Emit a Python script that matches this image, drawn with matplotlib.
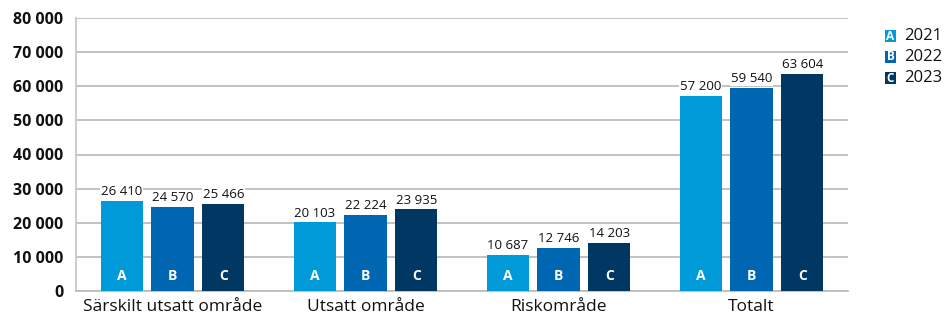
import numpy as np
import matplotlib
matplotlib.use("Agg")
import matplotlib.pyplot as plt
from matplotlib.patches import Rectangle

plt.rcParams['font.family'] = ['Open Sans', 'DejaVu Sans']

categories = ["Särskilt utsatt område", "Utsatt område", "Riskområde", "Totalt"]
years = ["2021", "2022", "2023"]
letters = ["A", "B", "C"]
v2021 = [26410, 20103, 10687, 57200]
v2022 = [24570, 22224, 12746, 59540]
v2023 = [25466, 23935, 14203, 63604]
series = [v2021, v2022, v2023]
colors = ["#009ad9", "#0066b1", "#003763"]

def fmt(v):
    return f"{v:,}".replace(",", " ")

W, H = 946, 316
fig = plt.figure(figsize=(W/100, H/100), dpi=100)
ax = fig.add_axes([76/W, 1 - 291/H, (848-76)/W, (291-18)/H])

x = np.arange(len(categories))
width = 0.218
offset = 0.264
for i, (vals, col) in enumerate(zip(series, colors)):
    xs = x + (i - 1) * offset
    ax.bar(xs, vals, width=width, color=col, zorder=3)
    for xi, v in zip(xs, vals):
        ax.annotate(fmt(v), (xi, v), xytext=(0, 2), textcoords="offset points",
                    ha="center", va="bottom", fontsize=9.5, color="#111111", zorder=4,
                    bbox=dict(facecolor="white", edgecolor="none", pad=0.6))
        ax.annotate(letters[i], (xi, 0), xytext=(0, 11), textcoords="offset points",
                    ha="center", va="center", fontsize=10, fontweight="bold",
                    color="white", zorder=4)

ax.set_xlim(-0.5, 3.5)
ax.set_ylim(0, 80000)
ax.set_yticks(np.arange(0, 80001, 10000))
ax.set_yticklabels([fmt(t) for t in range(0, 80001, 10000)], fontsize=11.5,
                   fontweight="bold", color="#111111")
ax.set_xticks(x)
ax.set_xticklabels(categories, fontsize=12.5, color="#111111")
ax.tick_params(axis="both", length=0)
ax.tick_params(axis="y", pad=9)
ax.tick_params(axis="x", pad=6)
ax.grid(axis="y", color="#bdbdbd", linewidth=1.3, zorder=0)
for s in ["top", "right"]:
    ax.spines[s].set_visible(False)
ax.spines["left"].set_color("#c8c8c8")
ax.spines["left"].set_linewidth(1.3)
ax.spines["bottom"].set_color("#bdbdbd")
ax.spines["bottom"].set_linewidth(1.3)

# legend with letter boxes
for i, (yr, col, let) in enumerate(zip(years, colors, letters)):
    cy = 36 + i * 21
    yy = 1 - cy / H
    fig.patches.append(Rectangle((885/W, 1 - (cy + 6)/H), 11/W, 12/H,
                                 transform=fig.transFigure, facecolor=col,
                                 edgecolor="none"))
    fig.text(890.5/W, yy, let, ha="center", va="center", fontsize=8.5,
             fontweight="bold", color="white")
    fig.text(904/W, yy, yr, ha="left", va="center", fontsize=12, color="#111111")

fig.savefig("out.png", dpi=100)
